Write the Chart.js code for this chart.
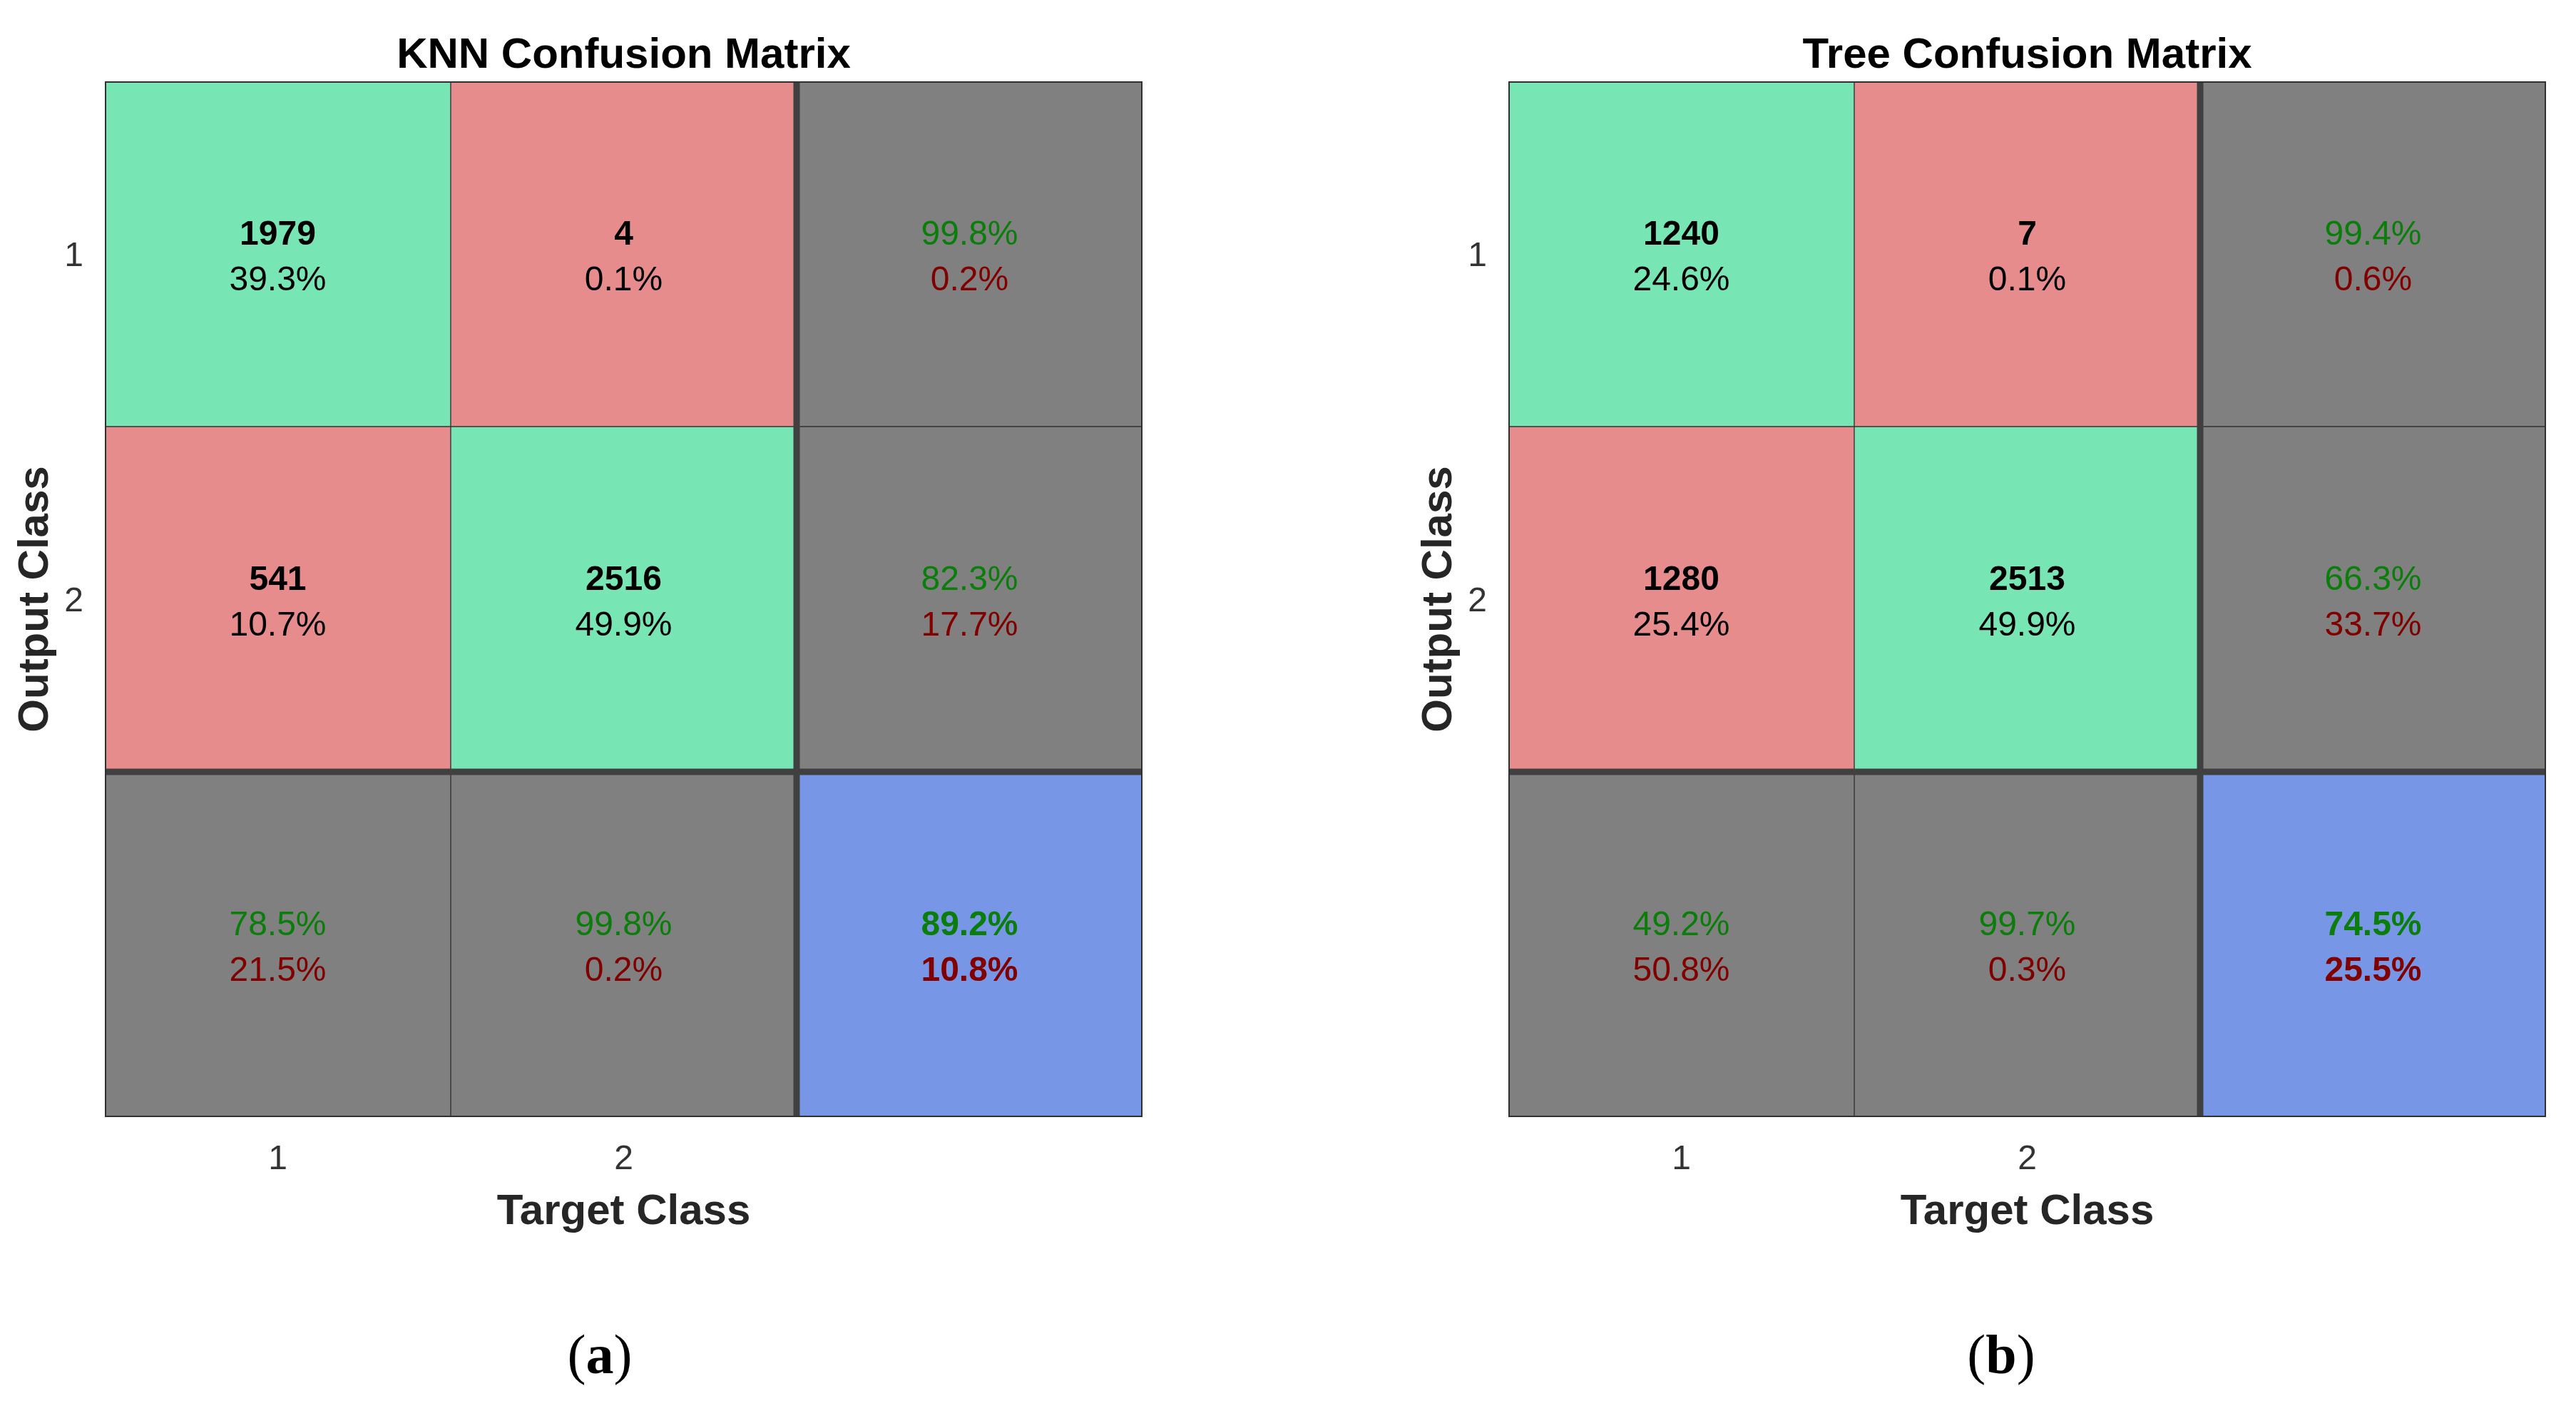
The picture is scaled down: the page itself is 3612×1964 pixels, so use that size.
<!DOCTYPE html>
<html><head><meta charset="utf-8">
<script src="https://cdn.jsdelivr.net/npm/chart.js@4.4.1/dist/chart.umd.min.js"></script>
<style>
html,body{margin:0;padding:0;background:#fff;width:3612px;height:1964px;overflow:hidden;}
.panel{position:absolute;top:0;width:1640px;height:1800px;}
.cap{position:absolute;font-family:'Liberation Serif','Times New Roman',serif;font-size:78px;line-height:78px;color:#000;text-align:center;width:200px;}
</style></head><body>
<div class="panel" style="left:0px"><canvas id="knn" width="1640" height="1800"></canvas></div>
<div class="panel" style="left:1968px"><canvas id="tree" width="1640" height="1800"></canvas></div>
<div class="cap" style="left:741px;top:1860px">(<b>a</b>)</div>
<div class="cap" style="left:2706px;top:1860px">(<b>b</b>)</div>
<script>
// ---- data ----
const targetLabels = ['1', '2', ''];
const outputLabels = ['1', '2', ''];

const knnTitle = 'KNN Confusion Matrix';
const knnCounts = [[1979, 4], [541, 2516]];
const knnPercents = [[39.3, 0.1], [10.7, 49.9]];
const knnRowCorrect = [99.8, 82.3];
const knnRowWrong = [0.2, 17.7];
const knnColCorrect = [78.5, 99.8];
const knnColWrong = [21.5, 0.2];
const knnTotal = [89.2, 10.8];

const treeTitle = 'Tree Confusion Matrix';
const treeCounts = [[1240, 7], [1280, 2513]];
const treePercents = [[24.6, 0.1], [25.4, 49.9]];
const treeRowCorrect = [99.4, 66.3];
const treeRowWrong = [0.6, 33.7];
const treeColCorrect = [49.2, 99.7];
const treeColWrong = [50.8, 0.3];
const treeTotal = [74.5, 25.5];

// ---- styling ----
const FONT = "'Liberation Sans', Arial, Helvetica, sans-serif";
const C_GREEN = '#78E6B4', C_RED = '#E68C8C', C_GRAY = '#808080', C_BLUE = '#7896E6';
const T_GREEN = '#0a7d0a', T_RED = '#800000', T_BLACK = '#000000';

function pct(v) { return v.toFixed(1) + '%'; }

function buildCells(counts, percents, rowC, rowW, colC, colW, total) {
  const n = counts.length;
  const cells = [];
  for (let r = 0; r <= n; r++) {
    const row = [];
    for (let c = 0; c <= n; c++) {
      if (r < n && c < n) {
        row.push({ fill: r === c ? C_GREEN : C_RED, lines: [
          { text: String(counts[r][c]), color: T_BLACK, bold: true },
          { text: pct(percents[r][c]), color: T_BLACK, bold: false }] });
      } else if (r < n) {
        row.push({ fill: C_GRAY, lines: [
          { text: pct(rowC[r]), color: T_GREEN, bold: false },
          { text: pct(rowW[r]), color: T_RED, bold: false }] });
      } else if (c < n) {
        row.push({ fill: C_GRAY, lines: [
          { text: pct(colC[c]), color: T_GREEN, bold: false },
          { text: pct(colW[c]), color: T_RED, bold: false }] });
      } else {
        row.push({ fill: C_BLUE, lines: [
          { text: pct(total[0]), color: T_GREEN, bold: true },
          { text: pct(total[1]), color: T_RED, bold: true }] });
      }
    }
    cells.push(row);
  }
  return cells;
}

const matrixPlugin = {
  id: 'matrixDecor',
  afterDatasetsDraw(chart) {
    const ctx = chart.ctx;
    const { left, right, top, bottom } = chart.chartArea;
    const xs = chart.scales.x, ys = chart.scales.y;
    ctx.save();
    // thick separators around the summary row / column
    ctx.strokeStyle = '#404040';
    ctx.lineWidth = 9;
    const vx = xs.getPixelForValue(targetLabels.length - 1.5);
    const hy = ys.getPixelForValue(1);
    ctx.beginPath();
    ctx.moveTo(vx, top); ctx.lineTo(vx, bottom);
    ctx.moveTo(left, hy); ctx.lineTo(right, hy);
    ctx.stroke();
    // outer frame
    ctx.lineWidth = 2;
    ctx.strokeStyle = '#303030';
    ctx.strokeRect(left + 1, top + 1, right - left - 2, bottom - top - 2);
    // cell texts
    ctx.textAlign = 'center';
    ctx.textBaseline = 'alphabetic';
    chart.data.datasets.forEach((ds, di) => {
      const meta = chart.getDatasetMeta(di);
      meta.data.forEach((bar, ci) => {
        const p = bar.getProps(['x', 'y', 'base'], true);
        const cy = (p.y + p.base) / 2;
        const lines = ds.cellText[ci];
        const offs = [-13, 51];
        lines.forEach((ln, li) => {
          ctx.font = (ln.bold ? 'bold ' : '') + '48px ' + FONT;
          ctx.fillStyle = ln.color;
          ctx.fillText(ln.text, p.x, cy + offs[li]);
        });
      });
    });
    ctx.restore();
  }
};

function makeChart(id, title, cells) {
  const nRows = outputLabels.length;
  const datasets = [];
  for (let r = nRows - 1; r >= 0; r--) {
    datasets.push({
      label: 'row ' + outputLabels[r],
      data: targetLabels.map(() => 1),
      backgroundColor: cells[r].map(c => c.fill),
      borderColor: '#333333',
      borderWidth: 1,
      borderSkipped: false,
      categoryPercentage: 1.0,
      barPercentage: 1.0,
      cellText: cells[r].map(c => c.lines)
    });
  }
  return new Chart(document.getElementById(id), {
    type: 'bar',
    data: { labels: targetLabels, datasets },
    plugins: [matrixPlugin],
    options: {
      responsive: false,
      devicePixelRatio: 1,
      animation: false,
      layout: { padding: { left: 0, right: 38, top: 0, bottom: 0 } },
      plugins: {
        legend: { display: false },
        tooltip: { enabled: false },
        title: {
          display: true, text: title, fullSize: false,
          color: '#000000',
          font: { family: FONT, size: 60, weight: 'bold', lineHeight: 1.2 },
          padding: { top: 42, bottom: 0 }
        }
      },
      scales: {
        x: {
          type: 'category', stacked: true, offset: true,
          grid: { display: false, drawTicks: false },
          border: { display: false },
          ticks: { color: '#333333', font: { family: FONT, size: 48 }, padding: 31, maxRotation: 0, autoSkip: false },
          title: { display: true, text: 'Target Class', color: '#262626',
            font: { family: FONT, size: 60, weight: 'bold', lineHeight: 1.2 }, padding: { top: 0, bottom: 65 } },
          afterFit: s => { s.height = 234; }
        },
        y: {
          type: 'linear', stacked: true, min: 0, max: nRows,
          grid: { display: false, drawTicks: false },
          border: { display: false },
          afterBuildTicks: s => { s.ticks = outputLabels.map((l, i) => ({ value: nRows - i - 0.5 })); },
          ticks: { color: '#333333', font: { family: FONT, size: 48 }, padding: 30, labelOffset: 4,
            callback: v => outputLabels[Math.round(nRows - 0.5 - v)] },
          title: { display: true, text: 'Output Class', color: '#262626',
            font: { family: FONT, size: 60, weight: 'bold', lineHeight: 1.2 }, padding: { top: 14, bottom: 0 } },
          afterFit: s => { s.width = 147; }
        }
      }
    }
  });
}

makeChart('knn', knnTitle, buildCells(knnCounts, knnPercents, knnRowCorrect, knnRowWrong, knnColCorrect, knnColWrong, knnTotal));
makeChart('tree', treeTitle, buildCells(treeCounts, treePercents, treeRowCorrect, treeRowWrong, treeColCorrect, treeColWrong, treeTotal));
</script>
</body></html>
